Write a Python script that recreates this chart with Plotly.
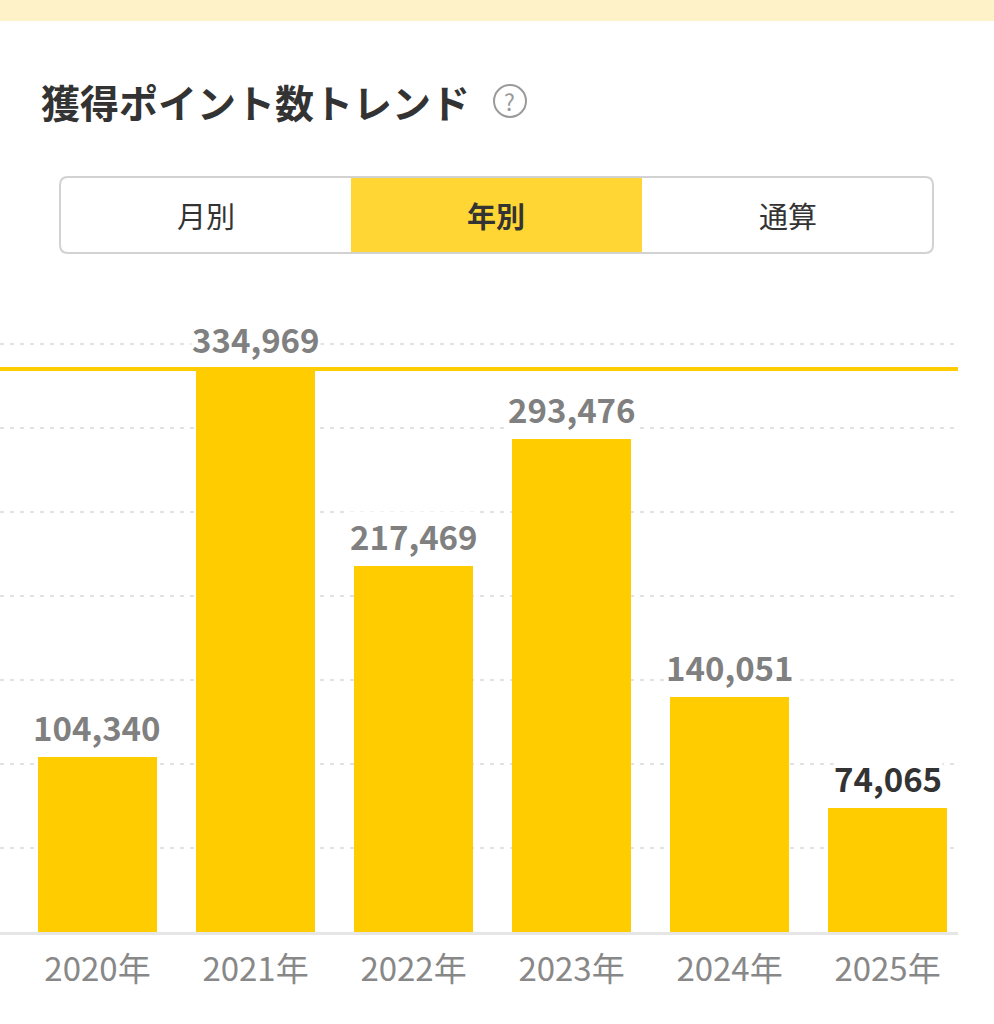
import plotly.graph_objects as go

years = ["2020年", "2021年", "2022年", "2023年", "2024年", "2025年"]
points = [104340, 334969, 217469, 293476, 140051, 74065]
label_colors = ["#808080", "#808080", "#808080", "#808080", "#808080", "#333333"]
tabs = ["月別", "年別", "通算"]

W, H = 994, 1024
# plot area in pixels
PX0, PX1 = 0, 958
PY0, PY1 = 300, 932

FONT = "Noto Sans CJK JP"
YELLOW = "#FFCC00"


def px(x):
    return (x - PX0) / (PX1 - PX0)


def py(y):
    return (PY1 - y) / (PY1 - PY0)


fig = go.Figure()

fig.add_trace(go.Bar(
    x=years,
    y=points,
    width=0.753,
    marker=dict(color=YELLOW, line=dict(width=0)),
    hoverinfo="skip",
    showlegend=False,
))

# value labels above the bars
for yr, val, col in zip(years, points, label_colors):
    fig.add_annotation(
        x=yr, y=val, xref="x", yref="y",
        text="<b>{:,}</b>".format(val),
        showarrow=False, yanchor="bottom", yshift=5,
        bgcolor="white", borderpad=0,
        font=dict(family=FONT, size=33, color=col),
    )

shapes = []
# max line
shapes.append(dict(type="line", xref="paper", yref="y", x0=0, x1=1,
                   y0=max(points), y1=max(points),
                   line=dict(color=YELLOW, width=4), layer="above"))
# top strip
shapes.append(dict(type="rect", xref="paper", yref="paper",
                   x0=px(0), x1=px(994), y0=py(0), y1=py(21),
                   fillcolor="#FEF3C8", line=dict(width=0)))
# help icon
shapes.append(dict(type="circle", xref="paper", yref="paper",
                   x0=px(494), x1=px(526), y0=py(85), y1=py(117),
                   line=dict(color="#9a9a9a", width=2)))

# segmented control
seg_x0, seg_x1, seg_y0, seg_y1 = 60, 933, 177, 253
seg_w = (seg_x1 - seg_x0) / 3
shapes.append(dict(type="rect", xref="paper", yref="paper",
                   x0=px(seg_x0 + seg_w), x1=px(seg_x0 + 2 * seg_w),
                   y0=py(seg_y0), y1=py(seg_y1),
                   fillcolor="#FFD633", line=dict(width=0)))
r = 8
path = ("M {a},{b} L {c},{b} Q {d},{b} {d},{e} L {d},{f} Q {d},{g} {c},{g} "
        "L {a},{g} Q {h},{g} {h},{f} L {h},{e} Q {h},{b} {a},{b} Z").format(
    a=px(seg_x0 + r), b=py(seg_y0), c=px(seg_x1 - r), d=px(seg_x1),
    e=py(seg_y0 + r), f=py(seg_y1 - r), g=py(seg_y1), h=px(seg_x0))
shapes.append(dict(type="path", xref="paper", yref="paper", path=path,
                   line=dict(color="#d2d2d2", width=2)))

fig.update_layout(shapes=shapes)

# title
fig.add_annotation(
    x=px(39), y=py(101), xref="paper", yref="paper",
    text="<b>獲得ポイント数トレンド</b>", showarrow=False,
    xanchor="left", yanchor="middle",
    font=dict(family=FONT, size=39, color="#333333"),
)
fig.add_annotation(
    x=px(510), y=py(101), xref="paper", yref="paper",
    text="?", showarrow=False, xanchor="center", yanchor="middle",
    font=dict(family=FONT, size=23, color="#9a9a9a"),
)
for i, t in enumerate(tabs):
    fig.add_annotation(
        x=px(seg_x0 + seg_w * (i + 0.5)), y=py(215), xref="paper", yref="paper",
        text="<b>" + t + "</b>" if i == 1 else t, showarrow=False,
        xanchor="center", yanchor="middle",
        font=dict(family=FONT, size=29, color="#333333"),
    )

fig.update_layout(
    width=W, height=H,
    margin=dict(l=PX0, r=W - PX1, t=PY0, b=H - PY1),
    paper_bgcolor="white",
    plot_bgcolor="white",
    bargap=0,
    xaxis=dict(
        type="category",
        range=[-0.617, 5.446],
        showgrid=False,
        showline=True, linecolor="#e6e6e6", linewidth=3,
        ticks="outside", ticklen=6, tickcolor="rgba(0,0,0,0)",
        tickfont=dict(family=FONT, size=33, color="#888888"),
        fixedrange=True,
    ),
    yaxis=dict(
        range=[0, 376000],
        tick0=0, dtick=50000,
        showgrid=True, gridcolor="#e2e2e2", gridwidth=2, griddash="4px,6px",
        zeroline=False, showticklabels=False,
        fixedrange=True,
    ),
)

fig.write_html("out.html", config={"displayModeBar": False},
               post_script="document.body.style.margin='0';")
